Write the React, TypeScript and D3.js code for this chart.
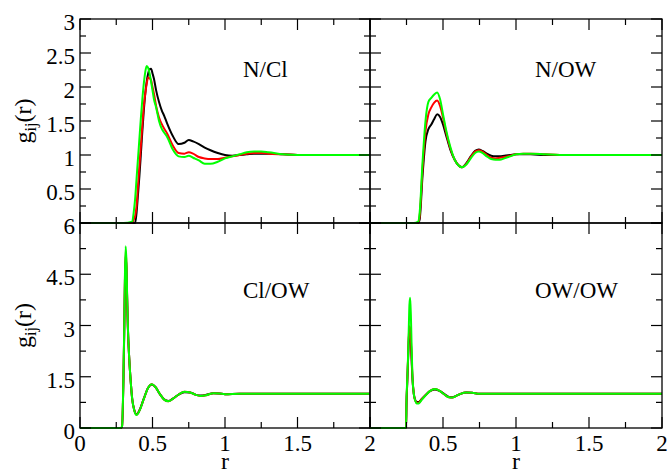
import React from "react";
import * as d3 from "d3";

// ---------- DATA ----------
// N/Cl panel
const rNCl = [0, 0.3, 0.36, 0.37, 0.38, 0.39, 0.40, 0.41, 0.42, 0.43, 0.44, 0.45, 0.46, 0.47, 0.48, 0.49, 0.50, 0.51, 0.525, 0.545, 0.565, 0.58, 0.60, 0.64, 0.68, 0.72, 0.75, 0.78, 0.82, 0.86, 0.90, 0.95, 1.0, 1.05, 1.1, 1.15, 1.2, 1.25, 1.3, 1.4, 1.5, 1.6, 1.7, 1.8, 1.9, 2.0];
const nclBlack = [0, 0, 0, 0, 0, 0.15, 0.42, 0.7, 1.02, 1.35, 1.65, 1.9, 2.08, 2.2, 2.26, 2.27, 2.2, 2.12, 1.95, 1.78, 1.65, 1.58, 1.47, 1.28, 1.16, 1.18, 1.22, 1.2, 1.16, 1.11, 1.07, 1.03, 1.0, 0.99, 1.0, 1.01, 1.02, 1.02, 1.02, 1.01, 1.0, 1.0, 1.0, 1.0, 1.0, 1.0];
const nclRed = [0, 0, 0, 0.05, 0.1, 0.25, 0.55, 0.85, 1.15, 1.45, 1.72, 1.9, 2.05, 2.14, 2.13, 2.1, 2.0, 1.9, 1.72, 1.55, 1.45, 1.39, 1.32, 1.14, 1.03, 1.02, 1.04, 1.02, 0.97, 0.95, 0.94, 0.94, 0.96, 0.98, 1.0, 1.02, 1.03, 1.03, 1.02, 1.01, 1.0, 1.0, 1.0, 1.0, 1.0, 1.0];
const nclGreen = [0, 0, 0.02, 0.15, 0.35, 0.65, 0.95, 1.25, 1.55, 1.82, 2.05, 2.22, 2.31, 2.28, 2.2, 2.08, 1.95, 1.82, 1.7, 1.5, 1.38, 1.33, 1.27, 1.08, 0.98, 0.97, 0.99, 0.96, 0.92, 0.87, 0.87, 0.9, 0.95, 0.98, 1.01, 1.04, 1.05, 1.05, 1.04, 1.01, 1.0, 1.0, 1.0, 1.0, 1.0, 1.0];

// N/OW panel
const rNOW = [0, 0.3, 0.33, 0.34, 0.36, 0.38, 0.40, 0.42, 0.44, 0.46, 0.48, 0.50, 0.52, 0.55, 0.58, 0.61, 0.63, 0.66, 0.69, 0.72, 0.745, 0.77, 0.80, 0.83, 0.86, 0.89, 0.92, 0.96, 1.0, 1.05, 1.1, 1.2, 1.3, 1.4, 1.6, 1.8, 2.0];
const nowBlack = [0, 0, 0, 0.05, 0.7, 1.2, 1.38, 1.45, 1.53, 1.6, 1.56, 1.45, 1.3, 1.08, 0.93, 0.84, 0.82, 0.88, 0.98, 1.06, 1.08, 1.06, 1.02, 0.99, 0.98, 0.98, 0.99, 1.0, 1.01, 1.01, 1.01, 1.0, 1.0, 1.0, 1.0, 1.0, 1.0];
const nowRed = [0, 0, 0, 0.1, 0.8, 1.35, 1.6, 1.7, 1.77, 1.8, 1.72, 1.55, 1.35, 1.1, 0.93, 0.84, 0.82, 0.87, 0.97, 1.05, 1.07, 1.05, 1.0, 0.96, 0.95, 0.96, 0.97, 0.99, 1.01, 1.02, 1.02, 1.01, 1.0, 1.0, 1.0, 1.0, 1.0];
const nowGreen = [0, 0, 0.02, 0.15, 0.9, 1.5, 1.78, 1.84, 1.89, 1.92, 1.82, 1.6, 1.38, 1.12, 0.93, 0.84, 0.82, 0.86, 0.95, 1.03, 1.05, 1.03, 0.98, 0.94, 0.93, 0.93, 0.95, 0.98, 1.01, 1.02, 1.02, 1.01, 1.0, 1.0, 1.0, 1.0, 1.0];

// Cl/OW panel
const rClOW = [0, 0.28, 0.29, 0.30, 0.305, 0.31, 0.315, 0.32, 0.325, 0.33, 0.34, 0.35, 0.36, 0.375, 0.39, 0.41, 0.44, 0.47, 0.495, 0.52, 0.55, 0.58, 0.61, 0.64, 0.68, 0.72, 0.76, 0.80, 0.83, 0.87, 0.92, 0.96, 1.0, 1.1, 1.2, 1.4, 1.6, 1.8, 2.0];
const clowBlack = [0, 0, 0.03, 1.5, 2.8, 4.3, 5.0, 4.7, 3.8, 2.95, 2.0, 1.35, 0.85, 0.52, 0.4, 0.52, 0.86, 1.18, 1.27, 1.2, 1.0, 0.84, 0.79, 0.86, 0.98, 1.05, 1.04, 0.97, 0.95, 0.97, 1.02, 1.01, 0.99, 1.0, 1.0, 1.0, 1.0, 1.0, 1.0];
const clowRed = [0, 0, 0.04, 1.55, 2.85, 4.4, 5.15, 4.8, 3.85, 2.98, 2.0, 1.35, 0.85, 0.51, 0.39, 0.51, 0.85, 1.18, 1.28, 1.2, 1.0, 0.83, 0.78, 0.85, 0.98, 1.06, 1.04, 0.97, 0.94, 0.96, 1.02, 1.01, 0.99, 1.0, 1.0, 1.0, 1.0, 1.0, 1.0];
const clowGreen = [0, 0, 0.05, 1.6, 2.9, 4.5, 5.32, 4.9, 3.9, 3.0, 2.0, 1.35, 0.85, 0.5, 0.38, 0.5, 0.85, 1.18, 1.28, 1.2, 1.0, 0.83, 0.78, 0.85, 0.98, 1.06, 1.04, 0.97, 0.94, 0.96, 1.02, 1.01, 0.99, 1.0, 1.0, 1.0, 1.0, 1.0, 1.0];

// OW/OW panel
const rOWOW = [0, 0.247, 0.25, 0.255, 0.26, 0.265, 0.27, 0.275, 0.28, 0.285, 0.29, 0.30, 0.31, 0.32, 0.335, 0.35, 0.38, 0.41, 0.445, 0.48, 0.51, 0.54, 0.565, 0.59, 0.62, 0.66, 0.70, 0.75, 0.8, 0.9, 1.0, 1.2, 1.4, 1.6, 1.8, 2.0];
const owowBlack = [0, 0, 0.7, 1.3, 1.9, 2.5, 2.9, 2.8, 2.5, 2.0, 1.5, 1.0, 0.82, 0.76, 0.76, 0.83, 0.96, 1.08, 1.13, 1.08, 0.99, 0.91, 0.9, 0.94, 1.0, 1.04, 1.03, 1.0, 1.0, 1.0, 1.0, 1.0, 1.0, 1.0, 1.0, 1.0];
const owowRed = [0, 0, 0.75, 1.35, 1.95, 2.6, 2.98, 2.9, 2.6, 2.1, 1.55, 1.0, 0.8, 0.74, 0.74, 0.82, 0.96, 1.08, 1.14, 1.08, 0.98, 0.9, 0.89, 0.94, 1.0, 1.04, 1.03, 1.0, 1.0, 1.0, 1.0, 1.0, 1.0, 1.0, 1.0, 1.0];
const owowGreen = [0, 0, 0.8, 1.4, 2.0, 2.8, 3.6, 3.81, 3.3, 2.4, 1.6, 1.0, 0.8, 0.72, 0.72, 0.8, 0.95, 1.08, 1.14, 1.08, 0.98, 0.9, 0.89, 0.94, 1.0, 1.04, 1.03, 1.0, 1.0, 1.0, 1.0, 1.0, 1.0, 1.0, 1.0, 1.0];

const seriesColors = ["#000000", "#ff0000", "#00ff00"];

const xTickLabelsLeft = [0, 0.5, 1, 1.5, 2];
const xTickLabelsRight = [0.5, 1, 1.5, 2];
const yTickLabelsTop = [0.5, 1, 1.5, 2, 2.5, 3];
const yTickLabelsBottom = [0, 1.5, 3, 4.5, 6];

const panelTitles = ["N/Cl", "N/OW", "Cl/OW", "OW/OW"];

// ---------- LAYOUT ----------
const W = 670;
const H = 471;
const XL = [80, 370];
const XR = [370, 662];
const YT = [223, 19];
const YB = [428, 223];
const FS = { fontFamily: '"Liberation Serif"' };

type PanelProps = {
  xr: number[];
  yr: number[];
  yMax: number;
  yMajor: number;
  yMinor: number;
  r: number[];
  series: number[][];
  title: string;
  titleX: number;
  titleY: number;
  id: string;
};

function Panel({ xr, yr, yMax, yMajor, yMinor, r, series, title, titleX, titleY, id }: PanelProps) {
  const x = d3.scaleLinear().domain([0, 2]).range(xr);
  const y = d3.scaleLinear().domain([0, yMax]).range(yr);
  const line = d3
    .line<number>()
    .x((_, i) => x(r[i]))
    .y((d) => y(d))
    .curve(d3.curveMonotoneX);

  const xTicks = d3.range(0, 2.0001, 0.25);
  const yTicks = d3.range(0, yMax + 1e-6, yMinor);
  const isMajorX = (v: number) => Math.abs(v / 0.5 - Math.round(v / 0.5)) < 1e-6;
  const isMajorY = (v: number) => Math.abs(v / yMajor - Math.round(v / yMajor)) < 1e-6;
  const [x0, x1] = xr;
  const [yb, yt] = yr;
  return (
    <g>
      <defs>
        <clipPath id={id}>
          <rect x={x0} y={yt - 2} width={x1 - x0} height={yb - yt + 4} />
        </clipPath>
      </defs>
      <g clipPath={`url(#${id})`}>
        {series.map((s, k) => (
          <path key={k} d={line(s) || ""} fill="none" stroke={seriesColors[k]} strokeWidth={2} strokeLinejoin="round" />
        ))}
      </g>
      {xTicks.map((v, i) => {
        const L = isMajorX(v) ? 11 : 6;
        return (
          <g key={"xt" + i} stroke="#000" strokeWidth={1.2}>
            <line x1={x(v)} x2={x(v)} y1={yb} y2={yb - L} />
            <line x1={x(v)} x2={x(v)} y1={yt} y2={yt + L} />
          </g>
        );
      })}
      {yTicks.map((v, i) => {
        const L = isMajorY(v) ? 11 : 6;
        return (
          <g key={"yt" + i} stroke="#000" strokeWidth={1.2}>
            <line x1={x0} x2={x0 + L} y1={y(v)} y2={y(v)} />
            <line x1={x1} x2={x1 - L} y1={y(v)} y2={y(v)} />
          </g>
        );
      })}
      <rect x={x0} y={yt} width={x1 - x0} height={yb - yt} fill="none" stroke="#000" strokeWidth={1.3} />
      <text x={titleX} y={titleY} style={FS} fontSize={23} fill="#000">
        {title}
      </text>
    </g>
  );
}

export default function App() {
  const xLeft = d3.scaleLinear().domain([0, 2]).range(XL);
  const xRight = d3.scaleLinear().domain([0, 2]).range(XR);
  const yTop = d3.scaleLinear().domain([0, 3]).range(YT);
  const yBot = d3.scaleLinear().domain([0, 6]).range(YB);
  const fmt = d3.format("~g");

  const yLabel = (cy: number, key: string) => (
    <text
      key={key}
      transform={`translate(31,${cy}) rotate(-90)`}
      textAnchor="middle"
      style={FS}
      fontSize={24}
      fill="#000"
    >
      g
      <tspan fontSize={16} dy={5}>ij</tspan>
      <tspan dy={-5}>(r)</tspan>
    </text>
  );

  return (
    <svg width={W} height={H} style={{ position: "absolute", left: 0, top: 0, background: "#fff" }}>
      <rect width={W} height={H} fill="#fff" />
      <Panel id="c1" xr={XL} yr={YT} yMax={3} yMajor={0.5} yMinor={0.25} r={rNCl}
        series={[nclBlack, nclRed, nclGreen]} title={panelTitles[0]} titleX={243} titleY={77} />
      <Panel id="c2" xr={XR} yr={YT} yMax={3} yMajor={0.5} yMinor={0.25} r={rNOW}
        series={[nowBlack, nowRed, nowGreen]} title={panelTitles[1]} titleX={535} titleY={77} />
      <Panel id="c3" xr={XL} yr={YB} yMax={6} yMajor={1.5} yMinor={0.75} r={rClOW}
        series={[clowBlack, clowRed, clowGreen]} title={panelTitles[2]} titleX={243} titleY={298} />
      <Panel id="c4" xr={XR} yr={YB} yMax={6} yMajor={1.5} yMinor={0.75} r={rOWOW}
        series={[owowBlack, owowRed, owowGreen]} title={panelTitles[3]} titleX={535} titleY={298} />

      {yTickLabelsTop.map((v) => (
        <text key={"ylt" + v} x={75} y={yTop(v) + 11} textAnchor="end" style={FS} fontSize={23} fill="#000">
          {fmt(v)}
        </text>
      ))}
      {yTickLabelsBottom.map((v) => (
        <text key={"ylb" + v} x={75} y={yBot(v) + 11} textAnchor="end" style={FS} fontSize={23} fill="#000">
          {fmt(v)}
        </text>
      ))}
      {xTickLabelsLeft.map((v) => (
        <text key={"xll" + v} x={xLeft(v)} y={451} textAnchor="middle" style={FS} fontSize={23} fill="#000">
          {fmt(v)}
        </text>
      ))}
      {xTickLabelsRight.map((v) => (
        <text key={"xlr" + v} x={xRight(v)} y={451} textAnchor="middle" style={FS} fontSize={23} fill="#000">
          {fmt(v)}
        </text>
      ))}
      <text x={xLeft(1)} y={469} textAnchor="middle" style={FS} fontSize={24} fill="#000">r</text>
      <text x={xRight(1)} y={469} textAnchor="middle" style={FS} fontSize={24} fill="#000">r</text>
      {yLabel((YT[0] + YT[1]) / 2, "yl1")}
      {yLabel((YB[0] + YB[1]) / 2, "yl2")}
    </svg>
  );
}
